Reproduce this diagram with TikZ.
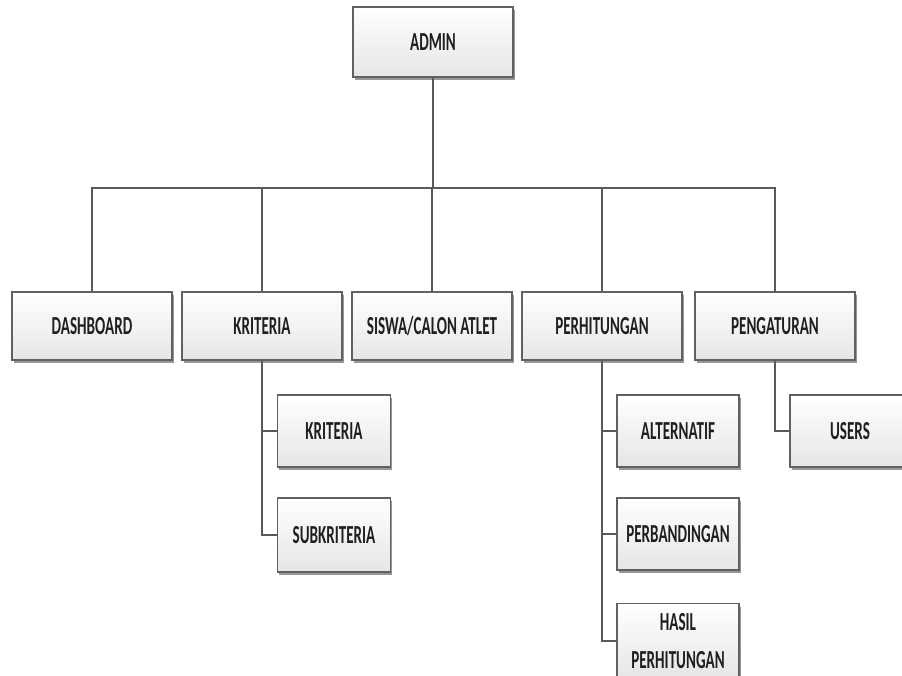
\documentclass[tikz,border=0pt]{standalone}
\usepackage{fontspec}
\newfontfamily\boxfont{Carlito}[FakeStretch=0.58]
\usetikzlibrary{shadows}

\tikzset{
  menubox/.style={
    draw=black!62, line width=1.1pt,
    top color=white, bottom color=black!10,
    drop shadow={shadow xshift=1.2pt, shadow yshift=-2.2pt, fill=black!45, opacity=0.9},
    font=\boxfont\bfseries\fontsize{19.5}{28.5}\selectfont,
    text=black!88, align=center, inner sep=0pt
  },
  topbox/.style={menubox, minimum width=120pt, minimum height=52.5pt},
  mainbox/.style={menubox, minimum width=120pt, minimum height=51pt},
  subbox/.style={menubox, minimum height=54pt},
  link/.style={draw=black!65, line width=1.3pt}
}

\begin{document}
\begin{tikzpicture}[x=0.75pt, y=-0.75pt]
  \useasboundingbox (0,0) rectangle (902,675);

  % root
  \node[topbox] (admin) at (433,42) {ADMIN};

  % first level menu
  \node[mainbox] (dash)  at (92,326)  {DASHBOARD};
  \node[mainbox] (krit)  at (262,326) {KRITERIA};
  \node[mainbox] (siswa) at (432,326) {SISWA/CALON ATLET};
  \node[mainbox] (hitung) at (602,326) {PERHITUNGAN};
  \node[mainbox] (atur)  at (775,326) {PENGATURAN};

  % second level menu
  \node[subbox, minimum width=85pt] (krit1) at (334,431) {KRITERIA};
  \node[subbox, minimum width=85pt, minimum height=55.5pt] (subkrit) at (334,535) {SUBKRITERIA};
  \node[subbox, minimum width=91.5pt] (alt) at (678,431) {ALTERNATIF};
  \node[subbox, minimum width=91.5pt] (banding) at (678,534) {PERBANDINGAN};
  \node[subbox, minimum width=91.5pt, minimum height=56pt] (hasil) at (678,641) {HASIL\\PERHITUNGAN};
  \node[subbox, minimum width=90pt] (users) at (850,431) {USERS};

  % connectors
  \coordinate (hub) at (433,188);
  \draw[link] (admin.south) -- (hub);
  \draw[link] (hub) -| (dash.north);
  \draw[link] (hub) -| (krit.north);
  \draw[link] (hub) -| (siswa.north);
  \draw[link] (hub) -| (hitung.north);
  \draw[link] (hub) -| (atur.north);

  \draw[link] (krit.south) |- (krit1.west);
  \draw[link] (krit.south) |- (subkrit.west);
  \draw[link] (hitung.south) |- (alt.west);
  \draw[link] (hitung.south) |- (banding.west);
  \draw[link] (hitung.south) |- (hasil.west);
  \draw[link] (atur.south) |- (users.west);
\end{tikzpicture}
\end{document}
